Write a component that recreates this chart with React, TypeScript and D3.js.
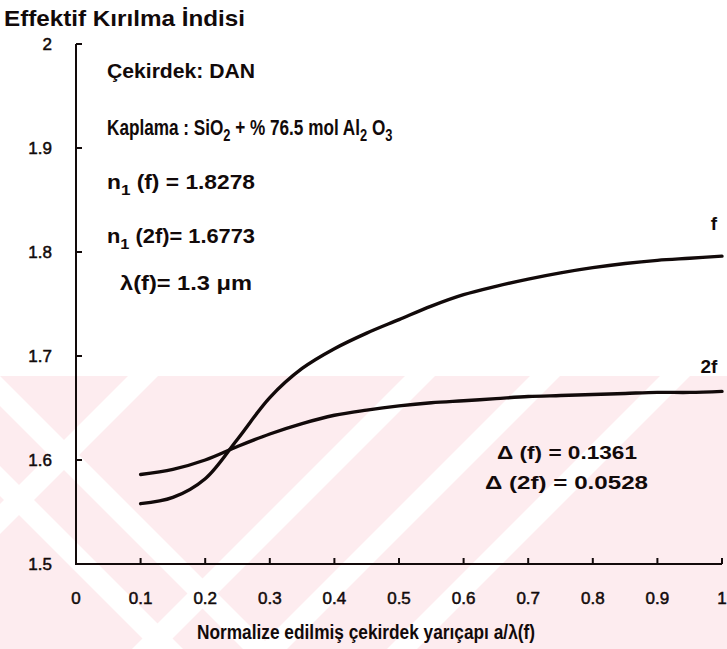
import * as d3 from "d3";

// ── Data ─────────────────────────────────────────────────────────────────────
const radius = [0.1, 0.15, 0.2, 0.25, 0.3, 0.35, 0.4, 0.45, 0.5, 0.55, 0.6, 0.65, 0.7, 0.75, 0.8, 0.85, 0.9, 0.95, 1.0];
const nFund = [1.558, 1.564, 1.582, 1.62, 1.66, 1.688, 1.707, 1.722, 1.735, 1.748, 1.759, 1.767, 1.774, 1.78, 1.785, 1.789, 1.792, 1.794, 1.796];
const nSecond = [1.586, 1.591, 1.6, 1.613, 1.625, 1.635, 1.643, 1.648, 1.652, 1.655, 1.657, 1.659, 1.661, 1.662, 1.663, 1.664, 1.665, 1.665, 1.666];

const xTicks = [0, 0.1, 0.2, 0.3, 0.4, 0.5, 0.6, 0.7, 0.8, 0.9, 1];
const xTickLabels = ["0", "0.1", "0.2", "0.3", "0.4", "0.5", "0.6", "0.7", "0.8", "0.9", "1"];
const yTicks = [1.5, 1.6, 1.7, 1.8, 1.9, 2];
const yTickLabels = ["1.5", "1.6", "1.7", "1.8", "1.9", "2"];

// watermark stripes (top x where each white band meets the pink block)
const stripesSlash = [128, 405, 530, 660];
const stripesBack = [-30, -120];

const W = 727;
const H = 649;
const FONT = "'Liberation Sans', Arial, Helvetica, sans-serif";
const INK = "#120a0a";

const x = d3.scaleLinear().domain([0, 1]).range([76, 722]);
const y = d3.scaleLinear().domain([1.5, 2]).range([564, 44]);

const line = d3.line<number>()
  .x((_, i) => x(radius[i]))
  .y(d => y(d))
  .curve(d3.curveCatmullRom.alpha(0.5));

const WM_TOP = 376;
const WM_H = H - WM_TOP;

function Sub({ children }: { children: string }) {
  return (
    <>
      <tspan dy={6} fontSize="0.75em">{children}</tspan>
      <tspan dy={-6}> </tspan>
    </>
  );
}

export default function App() {
  const bold = { fontFamily: FONT, fontWeight: 700, fill: INK };
  return (
    <svg width={W} height={H} viewBox={`0 0 ${W} ${H}`}
      style={{ position: "absolute", left: 0, top: 0, background: "#fff" }}>
      {/* faint watermark of the scanned page */}
      <defs>
        <clipPath id="wm">
          <rect x={0} y={WM_TOP} width={W} height={WM_H} />
        </clipPath>
      </defs>
      <g clipPath="url(#wm)">
        <rect x={0} y={WM_TOP} width={W} height={WM_H} fill="#fdecef" />
        {stripesSlash.map((s, i) => (
          <polygon key={"s" + i} fill="#fff"
            points={`${s},${WM_TOP} ${s + 30},${WM_TOP} ${s + 30 - WM_H},${H} ${s - WM_H},${H}`} />
        ))}
        {stripesBack.map((s, i) => (
          <polygon key={"b" + i} fill="#fff"
            points={`${s},${WM_TOP} ${s + 30},${WM_TOP} ${s + 30 + WM_H},${H} ${s + WM_H},${H}`} />
        ))}
      </g>

      {/* axes */}
      <g stroke={INK} strokeWidth={2} fill="none">
        <path d={`M${x(0)},${y(2)} V${y(1.5)} H${x(1)}`} />
        {xTicks.slice(1).map(t => (
          <line key={t} x1={x(t)} x2={x(t)} y1={y(1.5)} y2={y(1.5) - 6} />
        ))}
        {yTicks.slice(1).map(t => (
          <line key={t} x1={x(0)} x2={x(0) + 6} y1={y(t)} y2={y(t)} />
        ))}
      </g>
      <g fill={INK} stroke={INK} strokeWidth={0.5}>
        {xTicks.map((t, i) => (
          <text key={t} x={x(t)} y={y(1.5) + 40} textAnchor="middle"
            fontFamily={FONT} fontSize={17}>{xTickLabels[i]}</text>
        ))}
        {yTicks.map((t, i) => (
          <text key={t} x={x(0) - 24} y={y(t) + 6} textAnchor="end"
            fontFamily={FONT} fontSize={17}>{yTickLabels[i]}</text>
        ))}
      </g>

      {/* curves */}
      <path d={line(nFund) ?? ""} fill="none" stroke={INK} strokeWidth={3.4} strokeLinecap="round" />
      <path d={line(nSecond) ?? ""} fill="none" stroke={INK} strokeWidth={3.4} strokeLinecap="round" />
      <text {...bold} x={714} y={230} fontSize={19} textAnchor="middle">f</text>
      <text {...bold} x={709} y={373} fontSize={19} textAnchor="middle">2f</text>

      {/* titles */}
      <text {...bold} x={4} y={26} fontSize={22} textLength={241} lengthAdjust="spacingAndGlyphs">
        Effektif Kırılma İndisi
      </text>
      <text {...bold} x={197} y={639} fontSize={20} textLength={338} lengthAdjust="spacingAndGlyphs">
        Normalize edilmiş çekirdek yarıçapı  a/λ(f)
      </text>

      {/* annotations */}
      <text {...bold} x={107} y={78} fontSize={20} textLength={148} lengthAdjust="spacingAndGlyphs">
        Çekirdek: DAN
      </text>
      <text {...bold} fontSize={22} transform="translate(107,135) scale(0.78,1)">
        Kaplama : SiO<Sub>2</Sub>+ % 76.5 mol Al<Sub>2</Sub>O<Sub>3</Sub>
      </text>
      <text {...bold} x={107} y={189} fontSize={20} textLength={148} lengthAdjust="spacingAndGlyphs">
        n<Sub>1</Sub>(f) = 1.8278
      </text>
      <text {...bold} x={107} y={243} fontSize={20} textLength={148} lengthAdjust="spacingAndGlyphs">
        n<Sub>1</Sub>(2f)= 1.6773
      </text>
      <text {...bold} x={120} y={290} fontSize={20} textLength={132} lengthAdjust="spacingAndGlyphs">
        λ(f)= 1.3 μm
      </text>
      <text {...bold} x={497} y={459} fontSize={19} textLength={140} lengthAdjust="spacingAndGlyphs">
        Δ (f) = 0.1361
      </text>
      <text {...bold} x={485} y={489} fontSize={19} textLength={163} lengthAdjust="spacingAndGlyphs">
        Δ (2f) = 0.0528
      </text>
    </svg>
  );
}
